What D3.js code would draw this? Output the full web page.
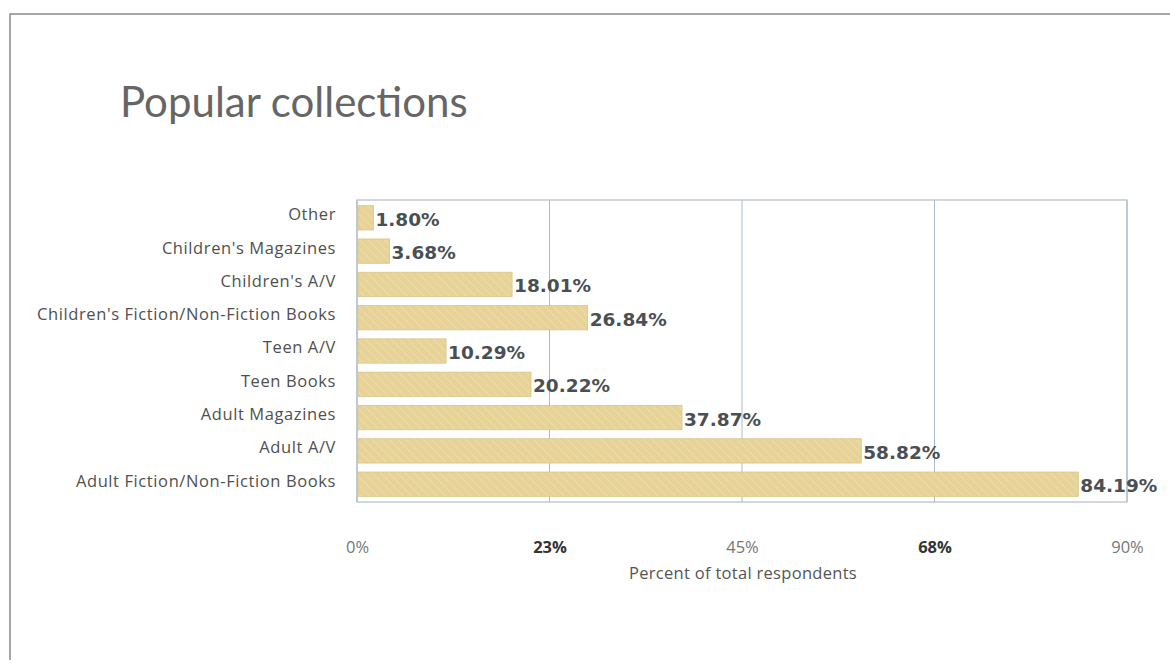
<!DOCTYPE html>
<html><head><meta charset="utf-8">
<script src="https://cdn.jsdelivr.net/npm/d3@7"></script>
<style>body{margin:0;background:#fff;}svg{display:block;}</style>
</head><body>
<svg id="c" width="1170" height="667"></svg>
<script>
const categories = ["Other","Children's Magazines","Children's A/V","Children's Fiction/Non-Fiction Books","Teen A/V","Teen Books","Adult Magazines","Adult A/V","Adult Fiction/Non-Fiction Books"];
const values = [1.80, 3.68, 18.01, 26.84, 10.29, 20.22, 37.87, 58.82, 84.19];
const tickValues = [0, 22.5, 45, 67.5, 90];
const tickLabels = ["0%", "23%", "45%", "68%", "90%"];
const title = "Popular collections";
const axisTitle = "Percent of total respondents";

const svg = d3.select("#c");
const defs = svg.append("defs");
const pat = defs.append("pattern").attr("id","hatch").attr("patternUnits","userSpaceOnUse")
  .attr("width",6).attr("height",6).attr("patternTransform","rotate(-45)");
pat.append("rect").attr("width",6).attr("height",6).attr("fill","#e7d397");
pat.append("line").attr("x1",0).attr("y1",0).attr("x2",0).attr("y2",6).attr("stroke","#efe0b2").attr("stroke-width",1.5);

// frame
svg.append("path").attr("d","M10,660 L10,14 L1170,14").attr("fill","none").attr("stroke","#8a8a8a").attr("stroke-width",1.5);

svg.append("text").attr("x",120).attr("y",117).text(title)
  .attr("font-family","Lato, 'Open Sans', sans-serif").attr("font-size",42).attr("fill","#666").attr("font-weight",400);

const m = {l:357, r:1127, t:200, b:502};
const x = d3.scaleLinear().domain([0,90]).range([m.l, m.r]);
const y = d3.scaleBand().domain(categories).range([m.t+3, m.b-3]).paddingInner(0.27).paddingOuter(0.08);

// grid
svg.append("g").selectAll("line").data(tickValues).join("line")
  .attr("x1",d=>x(d)).attr("x2",d=>x(d)).attr("y1",m.t).attr("y2",m.b)
  .attr("stroke","#a9bccb").attr("stroke-width",1);
svg.append("rect").attr("x",m.l).attr("y",m.t).attr("width",m.r-m.l).attr("height",m.b-m.t)
  .attr("fill","none").attr("stroke","#b2bcc4").attr("stroke-width",1.2);

// bars
svg.append("g").selectAll("rect").data(values).join("rect")
  .attr("x",x(0)+1).attr("y",(d,i)=>y(categories[i]))
  .attr("width",d=>x(d)-x(0)).attr("height",y.bandwidth())
  .attr("fill","url(#hatch)").attr("stroke","#d9c586").attr("stroke-width",0.8);

// value labels
svg.append("g").selectAll("text").data(values).join("text")
  .attr("x",d=>x(d)+3).attr("y",(d,i)=>y(categories[i])+y.bandwidth()/2+8)
  .text(d=>d.toFixed(2)+"%")
  .attr("font-family","'DejaVu Sans', sans-serif").attr("font-size",18.5).attr("font-weight",700)
  .attr("fill","#4a4f54").attr("letter-spacing",0);

// category labels
const yAxis = d3.axisLeft(y).tickSize(0).tickPadding(0);
const ga = svg.append("g").attr("transform",`translate(${m.l-21},0)`).call(yAxis);
ga.select(".domain").remove();
ga.selectAll("text").attr("font-family","'Open Sans', sans-serif").attr("font-size",16.5).attr("fill","#505050")
  .attr("letter-spacing",0.6).attr("dy","0.15em");

// x axis ticks
const xAxis = d3.axisBottom(x).tickValues(tickValues).tickSize(0).tickPadding(0).tickFormat((d,i)=>tickLabels[i]);
const gx = svg.append("g").attr("transform",`translate(0,${m.b+39})`).call(xAxis);
gx.select(".domain").remove();
gx.selectAll("text").attr("font-family","'Open Sans', sans-serif").attr("font-size",16.5)
  .attr("fill",(d,i)=>i%2? "#333":"#777").attr("font-weight",(d,i)=>i%2?700:400).attr("dy","0.71em");

svg.append("text").attr("x",743).attr("y",579).attr("text-anchor","middle").text(axisTitle)
  .attr("font-family","'Open Sans', sans-serif").attr("font-size",16.5).attr("fill","#555").attr("letter-spacing",0.3);
</script>
</body></html>
